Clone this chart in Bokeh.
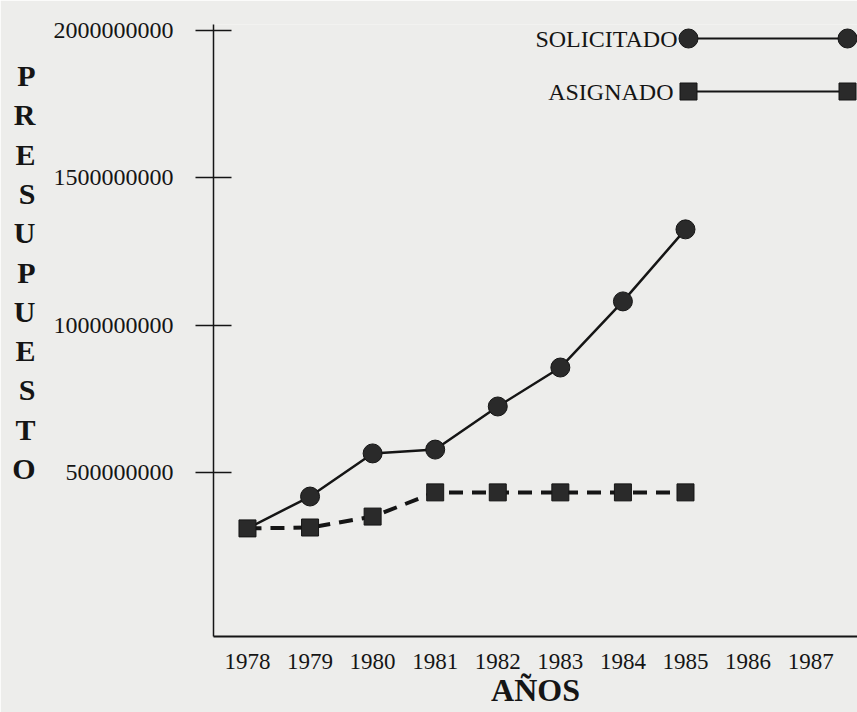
from bokeh.plotting import figure
from bokeh.models import Range1d, FixedTicker, Label, LinearAxis
from bokeh.embed import file_html
from bokeh.resources import INLINE

# ---- data ----
years = [1978, 1979, 1980, 1981, 1982, 1983, 1984, 1985]
solicitado = [312e6, 420e6, 566e6, 579e6, 725e6, 857e6, 1081e6, 1325e6]
asignado = [312e6, 315e6, 352e6, 434e6, 434e6, 434e6, 434e6, 434e6]

year_ticks = [1978, 1979, 1980, 1981, 1982, 1983, 1984, 1985, 1986, 1987]
year_labels = ["1978", "1979", "1980", "1981", "1982", "1983", "1984", "1985", "1986", "1987"]
y_ticks = [500000000, 1000000000, 1500000000, 2000000000]
y_labels = ["500000000", "1000000000", "1500000000", "2000000000"]

series_names = ["SOLICITADO", "ASIGNADO"]
y_title = "PRESUPUESTO"
x_title = "AÑOS"

# ---- style / layout ----
BG = "#ededeb"
INK = "#151515"
MARK = "#2a2a2a"
FONT = "Liberation Serif"

LEFT, TOP = 213, 24
FW, FH = 644, 612
BOTTOM = TOP + FH
X0, X1 = 1977.457, 1987.749
Y0, Y1 = -54.2e6, 2019e6

p = figure(frame_width=FW, frame_height=FH,
           x_range=Range1d(X0, X1), y_range=Range1d(Y0, Y1),
           output_backend="svg", toolbar_location=None,
           min_border_left=LEFT, min_border_right=0,
           min_border_top=TOP, min_border_bottom=76,
           background_fill_color=BG, border_fill_color=BG,
           outline_line_color=None)
p.grid.visible = False

# x axis
xa = p.xaxis[0]
xa.ticker = FixedTicker(ticks=year_ticks)
xa.major_label_overrides = {t: l for t, l in zip(year_ticks, year_labels)}
xa.major_tick_in = 0
xa.major_tick_out = 0
xa.minor_tick_line_color = None
xa.axis_line_width = 2
xa.axis_line_color = INK
xa.major_label_text_font = FONT
xa.major_label_text_font_size = "23px"
xa.major_label_text_color = INK
xa.major_label_standoff = 17
xa.axis_label = x_title
xa.axis_label_text_font = FONT
xa.axis_label_text_font_style = "bold"
xa.axis_label_text_font_size = "32px"
xa.axis_label_text_color = INK
xa.axis_label_standoff = 0

# y axis
ya = p.yaxis[0]
ya.ticker = FixedTicker(ticks=y_ticks)
ya.major_label_overrides = {t: l for t, l in zip(y_ticks, y_labels)}
ya.major_tick_in = 18
ya.major_tick_out = 18
ya.major_tick_line_width = 1.5
ya.major_tick_line_color = INK
ya.minor_tick_line_color = None
ya.axis_line_width = 1.5
ya.axis_line_color = INK
ya.major_label_text_font = FONT
ya.major_label_text_font_size = "24px"
ya.major_label_text_color = INK
ya.major_label_standoff = 22

# stacked, upright y title: an extra label-only axis on the far left
p.extra_y_ranges = {"title": Range1d(0, FH)}
letter_pos = [int(round(BOTTOM - (75 + i * 39.3))) for i in range(len(y_title))]
ta = LinearAxis(y_range_name="title")
ta.ticker = FixedTicker(ticks=letter_pos)
ta.major_label_overrides = {t: ch for t, ch in zip(letter_pos, y_title)}
ta.axis_line_color = None
ta.major_tick_line_color = None
ta.minor_tick_line_color = None
ta.major_tick_in = 0
ta.major_tick_out = 0
ta.major_label_text_font = FONT
ta.major_label_text_font_style = "bold"
ta.major_label_text_font_size = "30px"
ta.major_label_text_color = INK
ta.major_label_standoff = 15
p.add_layout(ta, "left")

# ---- series ----
p.line(years, asignado, line_color=INK, line_width=4, line_dash="14 9")
p.line(years, solicitado, line_color=INK, line_width=2.5)
p.scatter(years[1:], solicitado[1:], marker="circle", size=19,
          fill_color=MARK, line_color=INK, line_width=1)
p.scatter(years, asignado, marker="square", size=17,
          fill_color=MARK, line_color=INK, line_width=1)

# ---- manual legend (label on the left, marker-line-marker) ----
def dx(px):  # page px -> data x
    return X0 + (px - LEFT) / FW * (X1 - X0)

def dy(py):  # page px -> data y
    return Y1 - (py - TOP) / FH * (Y1 - Y0)

leg_x = [dx(688), dx(847)]
p.line(leg_x, [dy(38), dy(38)], line_color=INK, line_width=2)
p.scatter(leg_x, [dy(38), dy(38)], marker="circle", size=19,
          fill_color=MARK, line_color=INK)
p.line(leg_x, [dy(91), dy(91)], line_color=INK, line_width=1.8)
p.scatter(leg_x, [dy(91), dy(91)], marker="square", size=17,
          fill_color=MARK, line_color=INK)

p.add_layout(Label(x=677 - LEFT, y=BOTTOM - 38, x_units="screen", y_units="screen",
                   text=series_names[0], text_font=FONT, text_font_size="24px",
                   text_color=INK, text_align="right", text_baseline="middle"))
p.add_layout(Label(x=673 - LEFT, y=BOTTOM - 91, x_units="screen", y_units="screen",
                   text=series_names[1], text_font=FONT, text_font_size="24px",
                   text_color=INK, text_align="right", text_baseline="middle"))

open("out.html", "w").write(file_html(p, INLINE))
